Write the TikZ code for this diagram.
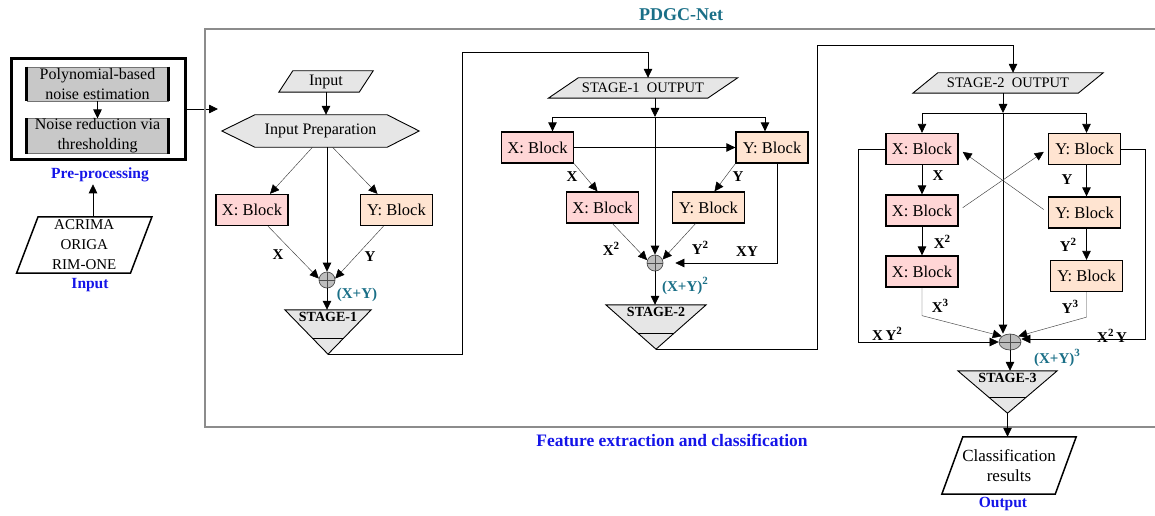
\documentclass[tikz,border=0pt]{standalone}
\usepackage{fontspec}
\setmainfont{Liberation Serif}
\usetikzlibrary{arrows.meta,calc,backgrounds,shapes.geometric}
\definecolor{xfill}{HTML}{FFD6D6}
\definecolor{yfill}{HTML}{FFE4D1}
\definecolor{shapegray}{HTML}{E6E6E6}
\definecolor{pregray}{HTML}{C8C8C8}
\definecolor{sumgray}{HTML}{BDBDBD}
\definecolor{tealtxt}{HTML}{1A6F87}
\definecolor{bluetxt}{HTML}{1515E8}
\definecolor{framegray}{HTML}{8C8C8C}
% bold letter with a raised exponent
\newcommand\bsup[2]{#1\raisebox{0.42em}{\fontsize{11}{11}\selectfont #2}}
% slanted (parallelogram) outline behind a holder node
\newcommand\slantbox[3]{%
  \begin{scope}[on background layer]
    \draw[#3] ([xshift=#2]#1.north west) -- ([xshift=#2]#1.north east)
      -- ([xshift=-#2]#1.south east) -- ([xshift=-#2]#1.south west) -- cycle;
  \end{scope}}
% downward stage triangle with its inner band
\newcommand\stagetri[1]{%
  \draw[slant] (#1.north west) -- (#1.north east) -- (#1.south) -- cycle;
  \draw[line width=0.9pt] ($(#1.north west)!0.636!(#1.south)$) -- ($(#1.north east)!0.636!(#1.south)$);}
\tikzset{
  fs/.style={font=\fontsize{#1}{20}\selectfont},
  fb/.style={font=\fontsize{#1}{20}\selectfont\bfseries},
  blk/.style={draw=black, line width=1.3pt, minimum width=72, minimum height=31, inner sep=0pt, fs=16.5},
  xblk/.style={blk, fill=xfill},
  yblk/.style={blk, fill=yfill},
  holder/.style={inner sep=0pt, align=center},
  slant/.style={draw=black, line width=0.9pt, fill=shapegray},
  arr/.style={-{Triangle[length=9pt,width=8.5pt,black]}, line width=0.8pt},
  farr/.style={arr, line width=0.45pt, draw=black!75},
  link/.style={line width=0.8pt},
  sumc/.style={circle, draw=black!70, line width=0.7pt, fill=sumgray, minimum size=16, inner sep=0pt,
    path picture={\draw[line width=0.6pt,black!70] (path picture bounding box.north) -- (path picture bounding box.south)
      (path picture bounding box.west) -- (path picture bounding box.east);}},
  lab/.style={fb=15, inner sep=0pt},
  tlab/.style={fb=15, text=tealtxt, inner sep=0pt},
  stagebox/.style={minimum width=#1, minimum height=44, inner sep=0pt},
  stagetxt/.style={fb=14, anchor=north, inner sep=2.5pt},
}
\begin{document}
\begin{tikzpicture}[x=1pt,y=-1pt]
\useasboundingbox (0,0) rectangle (1155,516);

% ---------- pre-processing ----------
\node[holder, fs=16, minimum width=141, minimum height=34, fill=pregray, draw=black!55, line width=0.5pt] (pre1) at (97.5,84) {Polynomial-based\\noise estimation};
\node[holder, fs=16, minimum width=141, minimum height=34, fill=pregray, draw=black!55, line width=0.5pt] (pre2) at (97.5,136) {Noise reduction via\\thresholding};
\draw[line width=3pt] (pre1.north west) -- (pre1.south west) (pre1.north east) -- (pre1.south east);
\draw[line width=3pt] (pre2.north west) -- (pre2.south west) (pre2.north east) -- (pre2.south east);
\draw[arr] (pre1) -- (pre2);
\node[draw=black, line width=3.5pt, minimum width=174, minimum height=101, inner sep=0pt] (pre) at (98.5,109) {};
\node[fb=15.5, text=bluetxt, inner sep=2pt] (prelab) at (100,175) {Pre-processing};

\node[holder, fs=15, minimum width=113.5, minimum height=56] (src) at (84.25,245) {ACRIMA\\ORIGA\\RIM-ONE};
\slantbox{src}{10.75}{draw=black, line width=1.5pt, fill=white}
\node[fb=15.5, text=bluetxt] at (90,285) {Input};
\draw[arr] ([xshift=8.75]src.north) -- ([xshift=8.75]src.north |- prelab.south);

\coordinate (fin) at (218,108);
\draw[arr] (pre.east) -- (pre.east -| fin);

% ---------- network frame ----------
\draw[framegray, line width=1.3pt] (1155,29) -- (205,29) -- (205,427) -- (1155,427);
\node[fb=18, text=tealtxt] at (681,15) {PDGC-Net};
\node[fb=17.5, text=bluetxt] at (672,440) {Feature extraction and classification};

% ---------- stage 1 ----------
\node[holder, fs=16, minimum width=80, minimum height=21] (in1) at (326,81.5) {Input};
\slantbox{in1}{7}{slant}
\node[holder, fs=16, minimum width=197, minimum height=32] (prep) at (320.5,131) {Input Preparation};
\begin{scope}[on background layer]
  \draw[slant] (prep.west) -- ([xshift=33]prep.north west) -- ([xshift=-32]prep.north east) -- (prep.east)
    -- ([xshift=-32]prep.south east) -- ([xshift=33]prep.south west) -- cycle;
\end{scope}
\node[xblk] (x1) at (252,210) {X: Block};
\node[yblk] (y1) at (396.5,210) {Y: Block};
\node[sumc] (sum1) at (327,280) {};
\node[stagebox=86] (st1) at (328,332) {};
\stagetri{st1}
\node[stagetxt] at (st1.north) {STAGE-1};

\draw[arr] (in1.south) -- (in1.south |- prep.north);
\draw[farr] ([xshift=-8]prep.south) -- ([xshift=18]x1.north);
\draw[farr] ([xshift=12]prep.south) -- ([xshift=-19]y1.north);
\draw[arr] (prep.south -| sum1) -- (sum1.north);
\draw[farr] ([xshift=16]x1.south) -- (sum1.170);
\draw[farr] ([xshift=-13]y1.south) -- (sum1.10);
\draw[arr] (sum1.south) -- (sum1.south |- st1.north);
\node[lab] at (278,255) {X};
\node[lab] at (370,257) {Y};
\node[tlab] at (357,295) {(X+Y)};

% ---------- stage 2 ----------
\node[holder, fs=14.5, minimum width=159, minimum height=20] (in2) at (643,88) {STAGE-1\ \ OUTPUT};
\slantbox{in2}{15}{slant}
\node[xblk] (x2a) at (537.5,147.5) {X: Block};
\node[yblk] (y2a) at (772,147.5) {Y: Block};
\node[xblk] (x2b) at (602.5,207.5) {X: Block};
\node[yblk] (y2b) at (708.5,207.5) {Y: Block};
\node[sumc] (sum2) at (655,263) {};
\node[stagebox=100] (st2) at (656,327) {};
\stagetri{st2}
\node[stagetxt] at (st2.north) {STAGE-2};

\coordinate (l1) at (462,52);
\draw[link] (st1.south) -| (l1);
\draw[arr] (l1) -| ([xshift=5]in2.north);

\coordinate (j2) at (655,117);
\draw[arr] (in2.south -| j2) -- (j2);
\draw[arr] (j2) -| ([xshift=15]x2a.north);
\draw[arr] (j2) -| ([xshift=-7]y2a.north);
\draw[arr] (j2) -- (sum2.north);
\draw[arr] (x2a) -- (y2a);
\draw[farr] (x2a.south east) -- ([xshift=-5]x2b.north);
\draw[farr] (y2a.south west) -- ([xshift=6]y2b.north);
\draw[farr] ([xshift=10]x2b.south) -- (sum2.160);
\draw[farr] ([xshift=-13]y2b.south) -- (sum2.25);
\draw[arr, line width=0.6pt] ([xshift=5]y2a.south) |- ([xshift=12]sum2.east);
\draw[arr] (sum2.south) -- (sum2.south |- st2.north);
\node[lab] at (572,177) {X};
\node[lab] at (738,177) {Y};
\node[lab] at (611,249) {\bsup{X}{2}};
\node[lab] at (700,248) {\bsup{Y}{2}};
\node[lab] at (747,252) {XY};
\node[tlab] at (685,286) {\bsup{(X+Y)}{2}};

% ---------- stage 3 ----------
\node[holder, fs=14.5, minimum width=165, minimum height=20] (in3) at (1008,83) {STAGE-2\ \ OUTPUT};
\slantbox{in3}{12.5}{slant}
\node[xblk] (x3a) at (922,149) {X: Block};
\node[yblk] (y3a) at (1084.5,149) {Y: Block};
\node[xblk] (x3b) at (922,210.5) {X: Block};
\node[yblk] (y3b) at (1084.5,212.5) {Y: Block};
\node[xblk] (x3c) at (922,271.5) {X: Block};
\node[yblk] (y3c) at (1086.5,276) {Y: Block};
\node[sumc, ellipse, minimum width=22, minimum height=16] (sum3) at (1010,342) {};
\node[stagebox=99, minimum height=42] (st3) at (1007.5,392) {};
\stagetri{st3}
\node[stagetxt] at (st3.north) {STAGE-3};

\coordinate (l2) at (817,45);
\draw[link] (st2.south) -| (l2);
\draw[arr] (l2) -| ([xshift=5]in3.north);

\coordinate (j3) at (1003,113);
\draw[arr] (in3.south -| j3) -- (j3);
\draw[arr] (j3) -| (x3a.north);
\draw[arr] (j3) -| ([xshift=2]y3a.north);
\draw[arr] (j3) -- (j3 |- sum3.north);
\draw[arr] (x3a) -- (x3b);
\draw[arr] ([xshift=2]y3a.south) -- ([xshift=2]y3b.north);
\draw[arr] (x3b) -- (x3c);
\draw[arr] ([xshift=2]y3b.south) -- (y3c.north);
\draw[farr, shorten <=5pt, shorten >=5pt] (x3b.east) -- (y3a.west);
\draw[farr, shorten <=5pt, shorten >=5pt] (y3b.west) -- (x3a.east);
\draw[farr] (x3c.south) -- ++(0,28) -- (sum3.145);
\draw[farr] (y3c.south) -- ++(0,25) -- (sum3.35);
\draw[arr, line width=0.6pt] (x3a.west) -- ++(-27,0) |- (sum3.west);
\draw[arr, line width=0.6pt] (y3a.east) -- ++(24,0) |- ([yshift=3]sum3.east);
\draw[arr] (sum3.south) -- (sum3.south |- st3.north);
\node[lab] at (938,176) {X};
\node[lab] at (1067,180) {Y};
\node[lab] at (942,242) {\bsup{X}{2}};
\node[lab] at (1068,245) {\bsup{Y}{2}};
\node[lab] at (940,306) {\bsup{X}{3}};
\node[lab] at (1070,307) {\bsup{Y}{3}};
\node[lab] at (887,334) {X\,\bsup{Y}{2}};
\node[lab] at (1112,336) {\bsup{X}{2}\,Y};
\node[tlab] at (1057,358) {\bsup{(X+Y)}{3}};

% ---------- output ----------
\node[holder, fs=17, minimum width=113, minimum height=57] (out) at (1009,465.5) {Classification\\results};
\slantbox{out}{10.5}{draw=black, line width=1.5pt, fill=white}
\draw[arr] (st3.south) -- (st3.south |- out.north);
\node[fb=15.5, text=bluetxt] at (1003,504) {Output};
\end{tikzpicture}
\end{document}
